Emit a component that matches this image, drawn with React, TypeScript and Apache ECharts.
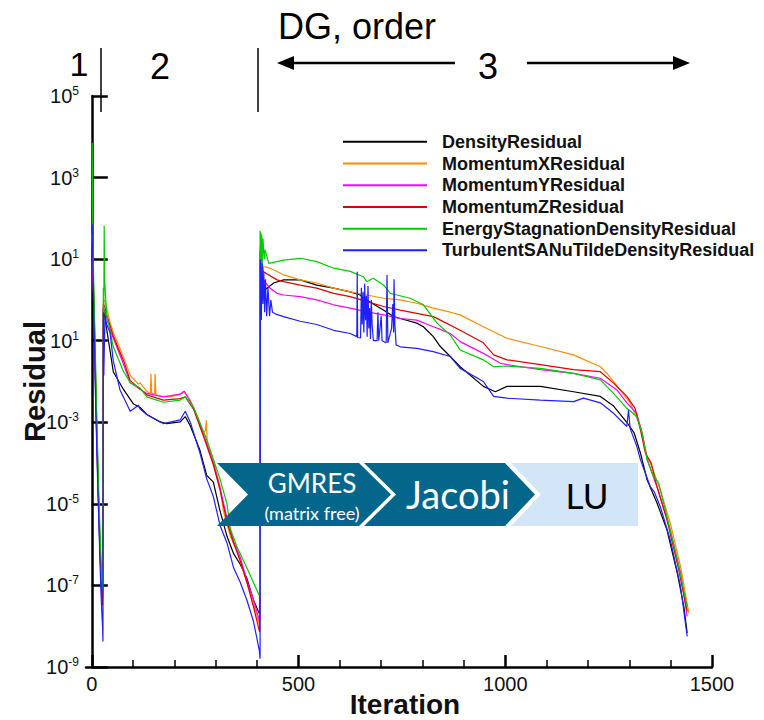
import React, { useEffect, useRef } from 'react';
import * as echarts from 'echarts';

// ---------- data ----------
const seriesNames = [
  'DensityResidual',
  'MomentumXResidual',
  'MomentumYResidual',
  'MomentumZResidual',
  'EnergyStagnationDensityResidual',
  'TurbulentSANuTildeDensityResidual',
];
const seriesColors = ['#000000', '#ff8c00', '#ff00ff', '#e00000', '#00cc00', '#1f1fff'];

const densityResidual: [number, number][] = [
  [1, 25], [2, 7.9], [4, 1.26], [6, 0.16], [8, 0.02], [10, 2.5e-3], [12, 4.0e-4], [14, 6.3e-5], [16, 1.26e-5],
  [18, 2.5e-6], [20, 6.3e-7], [22, 2.0e-7], [24, 7.9e-8], [26, 5.0e-8],
  [28, 0.63], [44, 0.058], [52, 0.0174], [77, 6.3e-3], [101, 2.8e-3], [117, 2.3e-3], [133, 1.55e-3], [165, 1.02e-3],
  [181, 9.3e-4], [214, 1.02e-3], [226, 1.38e-3], [238, 8.3e-4], [262, 2.0e-4], [278, 5.0e-5], [294, 3.4e-5],
  [310, 6.8e-6], [327, 1.6e-6], [343, 6.0e-7], [359, 3.3e-7], [375, 1.5e-7], [391, 4.4e-8], [406, 1.95e-8],
  [407, 7.9], [409, 1.26], [412, 3.2], [419, 1.78], [440, 2.6], [464, 3.1], [504, 3.1], [544, 2.3], [585, 1.95],
  [625, 1.58], [649, 1.32], [665, 1.0], [706, 0.56], [730, 0.39], [746, 0.35], [786, 0.27], [802, 0.22], [826, 0.126],
  [843, 0.072], [867, 0.041], [891, 0.023], [947, 7.6e-3], [976, 5.6e-3], [1004, 7.6e-3], [1085, 7.6e-3],
  [1165, 5.6e-3], [1230, 4.3e-3], [1262, 2.5e-3], [1294, 1.0e-3], [1312, 5.4e-4], [1327, 1.74e-4], [1343, 3.9e-5],
  [1367, 1.05e-5], [1391, 2.3e-6], [1416, 2.0e-7], [1432, 3.0e-8], [1440, 6.8e-9],
];

const momentumXResidual: [number, number][] = [
  [1, 40], [2, 12.6], [4, 2.0], [6, 0.32], [8, 0.04], [10, 5.0e-3], [12, 7.9e-4], [14, 1.26e-4], [16, 2.5e-5],
  [18, 5.0e-6], [20, 1.0e-6], [22, 2.5e-7], [24, 1.0e-7], [26, 5.0e-8],
  [28, 1.0], [32, 0.95], [44, 0.29], [52, 0.16], [77, 0.039], [93, 0.0141], [113, 8.5e-3], [117, 9.3e-3],
  [133, 5.75e-3], [142, 5.1e-3], [143, 0.0155], [145, 5.1e-3], [152, 5.0e-3], [153, 0.0155], [155, 4.8e-3],
  [165, 4.4e-3], [189, 4.2e-3], [214, 4.9e-3], [222, 5.75e-3], [238, 3.5e-3], [254, 1.55e-3], [270, 5.6e-4],
  [275, 6.3e-4], [277, 1.12e-3], [279, 3.2e-4], [294, 1.12e-4], [310, 2.75e-5], [318, 6.8e-6], [335, 1.6e-6],
  [351, 7.2e-7], [375, 1.2e-7], [391, 3.5e-8], [406, 1.07e-8],
  [407, 20], [409, 3.2], [411, 12.6], [413, 5.0], [415, 6.6], [431, 6.0], [448, 5.0], [464, 4.1], [504, 3.1],
  [544, 2.6], [585, 1.95], [625, 1.58], [665, 1.32], [706, 1.1], [746, 1.0], [786, 0.83], [826, 0.63], [867, 0.5],
  [891, 0.43], [947, 0.22], [1004, 0.115], [1085, 0.072], [1165, 0.045], [1230, 0.023], [1246, 0.0158],
  [1278, 6.2e-3], [1302, 3.0e-3], [1327, 7.9e-4], [1343, 1.45e-4], [1351, 1.0e-4], [1375, 2.2e-5], [1399, 3.4e-6],
  [1424, 2.9e-7], [1444, 2.1e-8],
];

const momentumYResidual: [number, number][] = [
  [1, 50], [2, 10], [4, 1.58], [6, 0.25], [8, 0.032], [10, 4.0e-3], [12, 5.0e-4], [14, 7.9e-5], [16, 1.58e-5],
  [18, 3.2e-6], [20, 6.3e-7], [22, 1.58e-7], [24, 6.3e-8], [26, 4.0e-8],
  [28, 0.63], [32, 0.52], [44, 0.19], [52, 0.117], [77, 0.026], [93, 9.3e-3], [133, 5.1e-3], [173, 4.2e-3],
  [214, 4.9e-3], [224, 5.75e-3], [246, 2.3e-3], [270, 5.0e-4], [294, 1.0e-4], [310, 2.5e-5], [327, 4.5e-6],
  [343, 1.2e-6], [359, 4.9e-7], [375, 1.32e-7], [391, 4.4e-8], [406, 1.32e-8],
  [407, 10], [409, 1.58], [411, 5.0], [415, 3.1], [431, 1.95], [448, 1.45], [464, 1.32], [504, 1.2], [544, 1.0],
  [585, 0.76], [625, 0.63], [665, 0.51], [706, 0.43], [746, 0.35], [786, 0.32], [826, 0.22], [843, 0.19],
  [867, 0.15], [891, 0.095], [947, 0.049], [988, 0.028], [1004, 0.026], [1085, 0.0195], [1165, 0.0158],
  [1230, 0.012], [1270, 6.2e-3], [1294, 3.0e-3], [1318, 1.66e-3], [1331, 5.4e-4], [1343, 1.26e-4], [1355, 5.6e-5],
  [1371, 2.0e-5], [1399, 2.3e-6], [1424, 2.0e-7], [1440, 1.74e-8],
];

const momentumZResidual: [number, number][] = [
  [1, 158], [2, 25], [4, 2.5], [6, 0.4], [8, 0.05], [10, 6.3e-3], [12, 7.9e-4], [14, 1.26e-4], [16, 2.0e-5],
  [18, 4.0e-6], [20, 7.9e-7], [22, 2.0e-7], [24, 6.3e-8], [26, 3.2e-8],
  [28, 0.79], [32, 0.65], [36, 0.43], [52, 0.13], [77, 0.032], [93, 0.0105], [133, 4.7e-3], [173, 3.5e-3],
  [214, 3.8e-3], [226, 4.2e-3], [246, 2.1e-3], [270, 4.6e-4], [294, 9.1e-5], [310, 2.2e-5], [327, 3.6e-6],
  [343, 1.1e-6], [359, 4.0e-7], [375, 1.2e-7], [391, 3.0e-8], [406, 7.2e-9],
  [407, 15.8], [409, 2.5], [411, 7.9], [415, 4.9], [448, 3.1], [464, 2.8], [504, 2.3], [544, 1.95], [585, 1.45],
  [625, 1.2], [665, 0.91], [706, 0.69], [746, 0.56], [786, 0.47], [826, 0.39], [843, 0.32], [891, 0.18],
  [947, 0.089], [972, 0.045], [1004, 0.034], [1085, 0.026], [1165, 0.0195], [1230, 0.0174], [1262, 9.1e-3],
  [1294, 4.3e-3], [1314, 2.2e-3], [1327, 6.5e-4], [1339, 1.74e-4], [1353, 1.0e-4], [1367, 2.6e-5], [1391, 4.1e-6],
  [1416, 3.5e-7], [1440, 2.3e-8],
];

const energyStagnationDensityResidual: [number, number][] = [
  [1, 7.1e3], [2, 158], [3, 15.8], [5, 2.0], [7, 0.25], [9, 0.032], [11, 4.0e-3], [13, 5.0e-4], [15, 1.0e-4],
  [17, 1.58e-5], [19, 4.0e-6], [21, 1.0e-6], [23, 3.2e-7], [25, 1.26e-7], [27, 7.9e-8],
  [28, 2.0], [29, 0.32], [30, 66], [31, 3.2], [32, 2.1], [36, 0.43], [52, 0.071], [77, 0.0174], [93, 9.3e-3],
  [117, 6.9e-3], [133, 4.2e-3], [173, 3.1e-3], [214, 3.5e-3], [226, 4.2e-3], [246, 2.3e-3], [278, 3.8e-4],
  [310, 4.1e-5], [327, 1.0e-5], [335, 2.45e-6], [351, 8.9e-7], [375, 2.7e-7], [406, 5.4e-8],
  [407, 50], [408, 3.2], [409, 45], [410, 4.0], [411, 40], [412, 6.3], [414, 32], [417, 10], [419, 17], [428, 7.9],
  [448, 8.7], [464, 9.5], [504, 10.5], [544, 8.7], [585, 6.0], [625, 5.0], [657, 3.7], [665, 2.8], [681, 3.4],
  [706, 2.3], [722, 1.45], [738, 1.32], [770, 1.1], [802, 0.76], [835, 0.27], [867, 0.138], [891, 0.059],
  [947, 0.034], [972, 0.023], [1004, 0.024], [1085, 0.021], [1165, 0.0158], [1230, 0.011], [1262, 5.1e-3],
  [1294, 2.2e-3], [1318, 1.38e-3], [1331, 5.4e-4], [1343, 1.2e-4], [1359, 4.7e-5], [1371, 3.2e-5], [1391, 4.9e-6],
  [1416, 4.3e-7], [1440, 3.0e-8],
];

const turbulentSANuTildeDensityResidual: [number, number][] = [
  [1, 71], [2, 15.8], [4, 1.0], [6, 0.126], [8, 0.0126], [10, 1.58e-3], [12, 2.5e-4], [14, 4.0e-5], [16, 7.9e-6],
  [18, 1.58e-6], [20, 3.2e-7], [22, 7.9e-8], [24, 2.5e-8], [26, 1.0e-8], [27, 4.2e-9],
  [28, 0.5], [29, 0.0141], [32, 0.43], [36, 0.25], [44, 0.16], [52, 0.032], [68, 6.3e-3], [93, 1.86e-3],
  [113, 2.6e-3], [117, 2.1e-3], [133, 1.55e-3], [173, 9.3e-4], [214, 1.15e-3], [226, 1.86e-3], [238, 1.02e-3],
  [262, 1.7e-4], [278, 4.1e-5], [294, 1.51e-5], [310, 3.0e-6], [327, 1.1e-6], [343, 2.7e-7], [359, 1.2e-7],
  [375, 4.4e-8], [391, 1.32e-8], [405, 2.6e-9], [407, 1.6e-9],
  [408, 10], [410, 0.32], [412, 7.9], [414, 0.79], [416, 5.0], [418, 0.5], [420, 3.2], [423, 0.4], [426, 2.0],
  [430, 0.4], [433, 1.0], [437, 0.5], [445, 0.45], [464, 0.39], [504, 0.3], [544, 0.25], [585, 0.18], [625, 0.15],
  [641, 0.126], [642, 4.9], [643, 0.12], [650, 0.117], [652, 2.0], [654, 0.25], [656, 1.58], [658, 0.16],
  [660, 2.5], [662, 0.32], [664, 1.26], [666, 0.126], [668, 2.2], [670, 0.2], [672, 0.63], [674, 0.11], [676, 1.0],
  [678, 0.25], [681, 0.1], [690, 0.1], [692, 0.5], [694, 0.1], [700, 0.4], [702, 0.1], [712, 0.089], [714, 4.1],
  [716, 0.089], [725, 0.2], [728, 0.79], [730, 0.16], [731, 3.2], [733, 0.25], [736, 0.079], [746, 0.071],
  [786, 0.065], [826, 0.054], [867, 0.041], [891, 0.021], [947, 0.01], [972, 4.3e-3], [1004, 3.9e-3],
  [1085, 3.5e-3], [1165, 3.2e-3], [1189, 3.9e-3], [1230, 3.0e-3], [1262, 1.66e-3], [1294, 7.9e-4], [1298, 2.0e-3],
  [1302, 7.1e-4], [1318, 2.6e-4], [1327, 1.2e-4], [1351, 2.6e-5], [1360, 2.0e-5], [1375, 8.5e-6], [1399, 1.32e-6],
  [1424, 9.3e-8], [1440, 5.6e-9],
];

const seriesData = [
  densityResidual,
  momentumXResidual,
  momentumYResidual,
  momentumZResidual,
  energyStagnationDensityResidual,
  turbulentSANuTildeDensityResidual,
];

// tick values and labels
const xTickValues = [0, 500, 1000, 1500];
const xMinorTickValues = [100, 200, 300, 400, 600, 700, 800, 900, 1100, 1200, 1300, 1400];
const yTickValues = [1e-9, 1e-7, 1e-5, 1e-3, 1e-1, 1e1, 1e3, 1e5];
// exponents as printed in the reference (the 1e-1 tick is printed "10^1")
const yTickExponents = ['-9', '-7', '-5', '-3', '1', '1', '3', '5'];

const FONT = '"Liberation Sans", Arial, Helvetica, sans-serif';
const BANNER_FONT = 'Lato, "Open Sans", sans-serif';

export default function App() {
  const ref = useRef<HTMLDivElement>(null);

  useEffect(() => {
    if (!ref.current) return;
    const chart = echarts.init(ref.current, undefined, { renderer: 'svg' });

    const yLabel = (v: number) => {
      const lv = Math.log10(v);
      const idx = yTickValues.findIndex((t) => Math.abs(Math.log10(t) - lv) < 0.01);
      const exp = idx >= 0 ? yTickExponents[idx] : String(Math.round(lv));
      return `{b|10}{s|${exp}}`;
    };

    const option: any = {
      animation: false,
      backgroundColor: '#ffffff',
      grid: { left: 86, right: 52, top: 96, bottom: 53, containLabel: false, outerBoundsMode: 'none' },
      legend: {
        show: true,
        orient: 'vertical',
        left: 338,
        top: 126,
        itemWidth: 84,
        itemHeight: 2,
        itemGap: 0,
        icon: 'rect',
        data: seriesNames,
        textStyle: {
          fontFamily: FONT,
          fontSize: 18,
          fontWeight: 'bold',
          color: '#111',
          lineHeight: 21.7,
          padding: [0, 0, 0, 10],
        },
      },
      xAxis: [
        {
          type: 'value',
          min: -14,
          max: 1500,
          position: 'bottom',
          name: 'Iteration',
          nameLocation: 'middle',
          nameGap: 22,
          nameMoveOverlap: false,
          nameTextStyle: { fontFamily: FONT, fontSize: 28, fontWeight: 'bold', color: '#111', padding: [0, 0, 0, 12], lineHeight: 30 },
          axisLine: { show: true, onZero: false, lineStyle: { color: '#000', width: 2.5 } },
          axisTick: { show: true, inside: true, length: 12, customValues: xTickValues, lineStyle: { color: '#000', width: 2.5 } },
          axisLabel: {
            show: true,
            customValues: xTickValues,
            margin: 7,
            fontFamily: FONT,
            fontSize: 20,
            color: '#111',
            formatter: (v: number) => String(v),
          },
          splitLine: { show: false },
        },
        {
          type: 'value',
          min: -14,
          max: 1500,
          position: 'bottom',
          axisLine: { show: false },
          axisTick: { show: true, inside: true, length: 7, customValues: xMinorTickValues, lineStyle: { color: '#000', width: 1.5 } },
          axisLabel: { show: false },
          splitLine: { show: false },
        },
      ],
      yAxis: {
        type: 'log',
        logBase: 10,
        min: 1e-9,
        max: 1e5,
        name: 'Residual',
        nameLocation: 'middle',
        nameGap: 36,
        nameMoveOverlap: false,
        nameTextStyle: { fontFamily: FONT, fontSize: 29, fontWeight: 'bold', color: '#111', lineHeight: 30 },
        axisLine: { show: true, lineStyle: { color: '#000', width: 2.5 } },
        axisTick: { show: true, inside: true, length: 16, customValues: yTickValues, lineStyle: { color: '#000', width: 2.5 } },
        minorTick: { show: false },
        splitLine: { show: false },
        axisLabel: {
          show: true,
          customValues: yTickValues,
          margin: 7,
          formatter: yLabel,
          rich: {
            b: { fontFamily: FONT, fontSize: 20, color: '#111', lineHeight: 22 },
            s: { fontFamily: FONT, fontSize: 12, color: '#111', lineHeight: 12, verticalAlign: 'top' },
          },
        },
      },
      series: seriesNames.map((name, i) => ({
        name,
        type: 'line',
        xAxisIndex: 0,
        data: seriesData[i],
        showSymbol: false,
        symbol: 'none',
        color: seriesColors[i],
        lineStyle: { color: seriesColors[i], width: 1.2 },
        z: 2 + i,
      })),
      graphic: [
        // phase annotations above the plot
        { type: 'text', x: 357, y: 26, z: 100, style: { text: 'DG, order', fontFamily: FONT, fontSize: 36, fill: '#000', textAlign: 'center', textVerticalAlign: 'middle' } },
        { type: 'text', x: 79, y: 64, z: 100, style: { text: '1', fontFamily: FONT, fontSize: 34, fill: '#000', textAlign: 'center', textVerticalAlign: 'middle' } },
        { type: 'text', x: 160, y: 66, z: 100, style: { text: '2', fontFamily: FONT, fontSize: 36, fill: '#000', textAlign: 'center', textVerticalAlign: 'middle' } },
        { type: 'text', x: 488, y: 66, z: 100, style: { text: '3', fontFamily: FONT, fontSize: 36, fill: '#000', textAlign: 'center', textVerticalAlign: 'middle' } },
        { type: 'line', z: 100, shape: { x1: 101, y1: 48, x2: 101, y2: 112 }, style: { stroke: '#000', lineWidth: 1.5 } },
        { type: 'line', z: 100, shape: { x1: 258, y1: 48, x2: 258, y2: 112 }, style: { stroke: '#000', lineWidth: 1.5 } },
        { type: 'line', z: 100, shape: { x1: 290, y1: 63, x2: 455, y2: 63 }, style: { stroke: '#000', lineWidth: 2.5 } },
        { type: 'polygon', z: 100, shape: { points: [[277, 63], [294, 56], [294, 70]] }, style: { fill: '#000' } },
        { type: 'line', z: 100, shape: { x1: 527, y1: 63, x2: 677, y2: 63 }, style: { stroke: '#000', lineWidth: 2.5 } },
        { type: 'polygon', z: 100, shape: { points: [[690, 63], [673, 56], [673, 70]] }, style: { fill: '#000' } },
        // solver banner
        { type: 'polygon', z: 100, shape: { points: [[511, 463], [638, 463], [638, 526], [511, 526], [541, 494.5]] }, style: { fill: '#d2e6f7' } },
        { type: 'polygon', z: 101, shape: { points: [[364, 463], [505, 463], [535, 494.5], [505, 526], [364, 526], [396, 494.5]] }, style: { fill: '#04668b' } },
        { type: 'polygon', z: 102, shape: { points: [[217, 463], [359, 463], [391, 494.5], [359, 526], [217, 526], [248, 494.5]] }, style: { fill: '#04668b' } },
        { type: 'text', x: 312, y: 483, z: 103, style: { text: 'GMRES', fontFamily: BANNER_FONT, fontSize: 26, fill: '#ffffff', textAlign: 'center', textVerticalAlign: 'middle' } },
        { type: 'text', x: 312, y: 513, z: 103, style: { text: '(matrix free)', fontFamily: BANNER_FONT, fontSize: 18, fill: '#ffffff', textAlign: 'center', textVerticalAlign: 'middle' } },
        { type: 'text', x: 458, y: 494, z: 103, style: { text: 'Jacobi', fontFamily: BANNER_FONT, fontSize: 38, fill: '#ffffff', textAlign: 'center', textVerticalAlign: 'middle' } },
        { type: 'text', x: 587, y: 495, z: 103, style: { text: 'LU', fontFamily: BANNER_FONT, fontSize: 35, fill: '#000000', textAlign: 'center', textVerticalAlign: 'middle' } },
      ],
    };

    chart.setOption(option);
    return () => {
      chart.dispose();
    };
  }, []);

  return <div ref={ref} style={{ position: 'absolute', left: 0, top: 0, width: 764, height: 720 }} />;
}
